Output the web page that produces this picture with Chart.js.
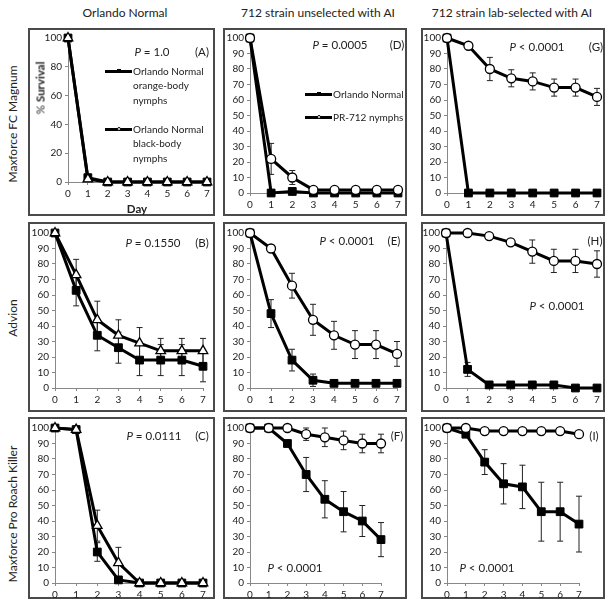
<!DOCTYPE html>
<html>
<head>
<meta charset="utf-8">
<script src="https://cdn.jsdelivr.net/npm/chart.js@4.4.1/dist/chart.umd.min.js"></script>
<style>
  body { margin: 0; background: #fff; font-family: Lato, "Liberation Sans", sans-serif; color: #222; }
  #wrap { position: relative; width: 610px; height: 609px; overflow: hidden; }
  .box { position: absolute; border: 2px solid #4a4a4a; box-sizing: border-box; }
  canvas { position: absolute; }
  .t { position: absolute; white-space: nowrap; transform: translate(-50%, -50%); font-size: 11.5px; }
  .hdr { font-size: 12px; }
  .rot { transform: translate(-50%, -50%) rotate(-90deg); }
  .leg { position: absolute; font-size: 10px; line-height: 14.5px; white-space: nowrap; }
  .legline { position: absolute; height: 3px; background: #000; }
  .legmark { position: absolute; width: 4px; height: 4px; box-sizing: border-box; border: 1px solid #000; }
</style>
</head>
<body>
<div id="wrap"></div>
<script>
const days = [0, 1, 2, 3, 4, 5, 6, 7];
const yTicks = [0, 10, 20, 30, 40, 50, 60, 70, 80, 90, 100];

// Orlando Normal: orange-body vs black-body nymphs
const aOrange = [100, 3, 0, 0, 0, 0, 0, 0];
const aBlack  = [100, 2, 0, 0, 0, 0, 0, 0];
const bOrange = [100, 63, 34, 26, 18, 18, 18, 14];
const bOrangeErr = [0, 10, 10, 10, 10, 10, 10, 10];
const bBlack  = [100, 73, 44, 34, 29, 24, 24, 24];
const bBlackErr = [0, 10, 12, 10, 10, 8, 8, 8];
const cOrange = [100, 99, 20, 2, 0, 0, 0, 0];
const cOrangeErr = [0, 0, 6, 0, 0, 0, 0, 0];
const cBlack  = [100, 99, 37, 13, 0, 0, 0, 0];
const cBlackErr = [0, 0, 10, 10, 0, 0, 0, 0];

// 712 strain unselected: Orlando Normal vs PR-712
const dNormal = [100, 0, 1, 0, 0, 0, 0, 0];
const dPR     = [100, 22, 10, 2, 2, 2, 2, 2];
const dPRErr  = [0, 10, 4.5, 0, 0, 0, 0, 0];
const eNormal = [100, 48, 18, 5, 3, 3, 3, 3];
const eNormalErr = [0, 9, 7, 4, 0, 0, 0, 0];
const ePR     = [100, 90, 66, 44, 34, 28, 28, 22];
const ePRErr  = [0, 2, 8, 10, 9, 9, 9, 8];
const fNormal = [100, 100, 90, 70, 54, 46, 40, 28];
const fNormalErr = [0, 0, 2, 11, 12, 13, 10, 11];
const fPR     = [100, 100, 100, 96, 94, 92, 90, 90];
const fPRErr  = [0, 0, 0, 4, 6, 6, 6, 6];

// 712 strain lab-selected
const gNormal = [100, 0, 0, 0, 0, 0, 0, 0];
const gPR     = [100, 95, 80, 74, 72, 68, 68, 62];
const gPRErr  = [0, 1, 7.5, 5.5, 5.5, 5.5, 5.5, 5.5];
const hNormal = [100, 12, 2, 2, 2, 2, 0, 0];
const hNormalErr = [0, 4.5, 0, 0, 0, 0, 0, 0];
const hPR     = [100, 100, 98, 94, 88, 82, 82, 80];
const hPRErr  = [0, 0, 1, 2, 7.5, 7.5, 7.5, 8.5];
const iNormal = [100, 96, 78, 64, 62, 46, 46, 38];
const iNormalErr = [0, 2, 8, 13, 14, 19, 19, 18];
const iPR     = [100, 100, 98, 98, 98, 98, 98, 96];

const FONT = 'Lato, "Liberation Sans", sans-serif';
const wrap = document.getElementById('wrap');

const errorBars = {
  id: 'errorBars',
  beforeDatasetsDraw(chart) {
    const ctx = chart.ctx, ys = chart.scales.y;
    ctx.save();
    ctx.strokeStyle = '#222';
    ctx.lineWidth = 1;
    chart.data.datasets.forEach((ds, di) => {
      if (!ds.err) return;
      const pts = chart.getDatasetMeta(di).data;
      ds.vals.forEach((v, i) => {
        const e = ds.err[i];
        if (!e) return;
        const x = pts[i].x;
        const yt = ys.getPixelForValue(Math.min(100, v + e));
        const yb = ys.getPixelForValue(Math.max(0, v - e));
        ctx.beginPath();
        ctx.moveTo(x, yt); ctx.lineTo(x, yb);
        ctx.moveTo(x - 3, yt); ctx.lineTo(x + 3, yt);
        ctx.moveTo(x - 3, yb); ctx.lineTo(x + 3, yb);
        ctx.stroke();
      });
    });
    ctx.restore();
  }
};

function series(vals, err, style, order) {
  const s = {
    data: days.map((d, i) => ({ x: d, y: vals[i] })),
    vals: vals,
    err: err,
    borderColor: '#000',
    borderWidth: 3,
    tension: 0,
    clip: false,
    order: order,
    pointBorderColor: '#000'
  };
  if (style === 'square') {
    s.pointStyle = 'rect'; s.pointRadius = 5.5; s.pointBackgroundColor = '#000'; s.pointBorderWidth = 1;
  } else if (style === 'circle') {
    s.pointStyle = 'circle'; s.pointRadius = 4.5; s.pointBackgroundColor = '#fff'; s.pointBorderWidth = 1.3;
  } else {
    s.pointStyle = 'triangle'; s.pointRadius = 5.5; s.pointBackgroundColor = '#fff'; s.pointBorderWidth = 1.3;
  }
  return s;
}

function panel(box, plot, datasets) {
  const [bx, by, bw, bh] = box;
  const [px0, px1, py0, py1] = plot;
  const b = document.createElement('div');
  b.className = 'box';
  b.style.cssText = `left:${bx}px;top:${by}px;width:${bw}px;height:${bh}px`;
  wrap.appendChild(b);
  const c = document.createElement('canvas');
  c.width = bw; c.height = bh;
  c.style.left = bx + 'px'; c.style.top = by + 'px';
  wrap.appendChild(c);
  const yw = px0 - bx, xh = by + bh - py1;
  const axisGrid = { drawOnChartArea: false, drawTicks: true, tickLength: 3, color: '#888' };
  new Chart(c.getContext('2d'), {
    type: 'line',
    data: { datasets: datasets },
    options: {
      responsive: false,
      animation: false,
      devicePixelRatio: 1,
      layout: { padding: { left: 0, top: py0 - by, right: bx + bw - px1, bottom: 0 } },
      plugins: { legend: { display: false }, tooltip: { enabled: false } },
      scales: {
        x: {
          type: 'linear', min: 0, max: 7,
          grid: axisGrid,
          border: { color: '#888', width: 1 },
          ticks: { stepSize: 1, maxRotation: 0, padding: 3, color: '#222', font: { size: 10, family: FONT } },
          afterFit(s) { s.height = xh; s.paddingLeft = 0; s.paddingRight = 0; }
        },
        y: {
          min: 0, max: 100,
          afterBuildTicks(s) { s.ticks = yTicks.map(v => ({ value: v })); },
          grid: axisGrid,
          border: { color: '#888', width: 1 },
          ticks: { padding: 3, color: '#222', font: { size: 10, family: FONT } },
          afterFit(s) { s.width = yw; s.paddingTop = 0; s.paddingBottom = 0; }
        }
      }
    },
    plugins: [errorBars]
  });
}

function text(html, x, y, cls) {
  const d = document.createElement('div');
  d.className = 't' + (cls ? ' ' + cls : '');
  d.style.left = x + 'px'; d.style.top = y + 'px';
  d.innerHTML = html;
  wrap.appendChild(d);
}

// row 1
panel([28, 28, 187, 188], [68, 207, 38, 182], [
  series(aBlack, null, 'triangle', 0), series(aOrange, null, 'square', 1)]);
panel([223, 28, 184, 188], [250, 398, 38, 193], [
  series(dPR, dPRErr, 'circle', 0), series(dNormal, null, 'square', 1)]);
panel([421, 28, 184, 188], [447, 597, 38, 193], [
  series(gPR, gPRErr, 'circle', 0), series(gNormal, null, 'square', 1)]);
// row 2
panel([28, 222, 187, 190], [55, 203, 233, 388], [
  series(bBlack, bBlackErr, 'triangle', 0), series(bOrange, bOrangeErr, 'square', 1)]);
panel([223, 222, 184, 190], [250, 397, 233, 388], [
  series(ePR, ePRErr, 'circle', 0), series(eNormal, eNormalErr, 'square', 1)]);
panel([421, 222, 184, 190], [446, 597, 233, 388], [
  series(hPR, hPRErr, 'circle', 0), series(hNormal, hNormalErr, 'square', 1)]);
// row 3
panel([28, 417, 187, 182], [55, 203, 428, 583], [
  series(cBlack, cBlackErr, 'triangle', 0), series(cOrange, cOrangeErr, 'square', 1)]);
panel([223, 417, 184, 182], [250, 381, 428, 583], [
  series(fPR, fPRErr, 'circle', 0), series(fNormal, fNormalErr, 'square', 1)]);
panel([421, 417, 184, 182], [447, 579, 428, 583], [
  series(iPR, null, 'circle', 0), series(iNormal, iNormalErr, 'square', 1)]);

// headers
text('Orlando Normal', 125, 12, 'hdr');
text('712 strain unselected with AI', 318, 12, 'hdr');
text('712 strain lab-selected with AI', 512, 12, 'hdr');
text('Maxforce FC Magnum', 12, 124, 'hdr rot');
text('Advion', 12, 318, 'hdr rot');
text('Maxforce Pro Roach Killer', 12, 514, 'hdr rot');
text('% <b>Survival</b>', 40, 88, 'rot');
text('<b>Day</b>', 137, 208);

// P values and panel letters
text('<i>P</i> = 1.0', 152, 51); text('(A)', 202, 51);
text('<i>P</i> = 0.0005', 340, 44); text('(D)', 397, 44);
text('<i>P</i> &lt; 0.0001', 537, 46); text('(G)', 596, 46);
text('<i>P</i> = 0.1550', 153, 242); text('(B)', 202, 242);
text('<i>P</i> &lt; 0.0001', 347, 240); text('(E)', 394, 240);
text('(H)', 595, 240); text('<i>P</i> &lt; 0.0001', 557, 305);
text('<i>P</i> = 0.0111', 154, 435); text('(C)', 202, 435);
text('(F)', 397, 435); text('<i>P</i> &lt; 0.0001', 295, 567);
text('(I)', 594, 435); text('<i>P</i> &lt; 0.0001', 487, 567);

// legends
function legend(x0, x1, y, lines, filled) {
  const l = document.createElement('div');
  l.className = 'legline';
  l.style.cssText = `left:${x0}px;top:${y - 1.5}px;width:${x1 - x0}px`;
  wrap.appendChild(l);
  const m = document.createElement('div');
  m.className = 'legmark';
  m.style.cssText = `left:${(x0 + x1) / 2 - 2}px;top:${y - 2}px;background:${filled ? '#000' : '#fff'};` + (filled ? '' : 'border-radius:2px');
  wrap.appendChild(m);
  const t = document.createElement('div');
  t.className = 'leg';
  t.style.cssText = `left:${x1 + 1}px;top:${y - 7.5}px`;
  t.innerHTML = lines.join('<br>');
  wrap.appendChild(t);
}
legend(105, 132, 71, ['Orlando Normal', 'orange-body', 'nymphs'], true);
legend(105, 132, 129, ['Orlando Normal', 'black-body', 'nymphs'], false);
legend(305, 332, 94, ['Orlando Normal'], true);
legend(305, 332, 117, ['PR-712 nymphs'], false);
</script>
</body>
</html>
